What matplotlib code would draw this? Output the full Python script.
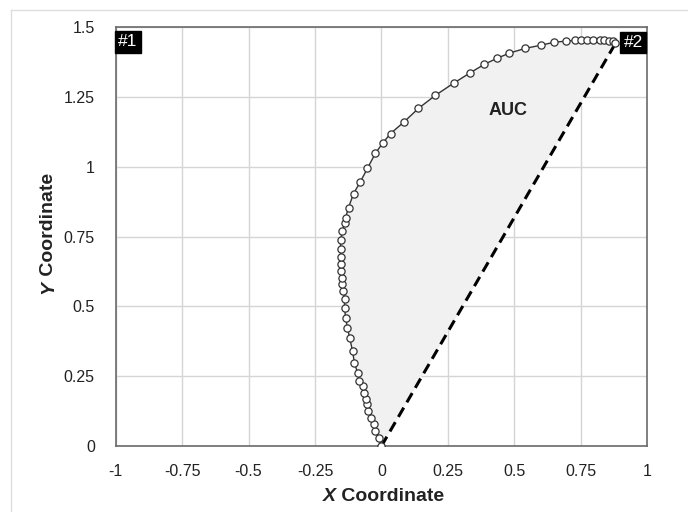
import numpy as np
import matplotlib.pyplot as plt
from matplotlib.lines import Line2D

plt.rcParams["font.family"] = ["Liberation Sans", "DejaVu Sans"]

# trajectory (x, y)
x_path = [0.0, -0.011, -0.023, -0.03, -0.041, -0.049, -0.053, -0.06, -0.064,
          -0.071, -0.083, -0.09, -0.102, -0.109, -0.12, -0.128, -0.135, -0.139,
          -0.139, -0.143, -0.147, -0.15, -0.154, -0.154, -0.154, -0.154, -0.154,
          -0.147, -0.139, -0.135, -0.124, -0.105, -0.079, -0.053, -0.023, 0.004,
          0.034, 0.083, 0.139, 0.203, 0.271, 0.331, 0.387, 0.436, 0.481, 0.541,
          0.598, 0.65, 0.695, 0.729, 0.752, 0.774, 0.797, 0.82, 0.838, 0.857,
          0.872, 0.88]
y_path = [0.0, 0.029, 0.054, 0.079, 0.1, 0.126, 0.151, 0.169, 0.19, 0.215,
          0.233, 0.262, 0.298, 0.341, 0.388, 0.423, 0.459, 0.495, 0.527, 0.556,
          0.581, 0.603, 0.628, 0.653, 0.678, 0.707, 0.736, 0.771, 0.8, 0.818,
          0.854, 0.904, 0.947, 0.994, 1.048, 1.084, 1.119, 1.159, 1.209, 1.256,
          1.299, 1.335, 1.367, 1.389, 1.407, 1.424, 1.435, 1.446, 1.45, 1.453,
          1.453, 1.453, 1.453, 1.453, 1.453, 1.452, 1.449, 1.442]

x_ticks = [-1, -0.75, -0.5, -0.25, 0, 0.25, 0.5, 0.75, 1]
y_ticks = [0, 0.25, 0.5, 0.75, 1, 1.25, 1.5]
x_tick_labels = ["-1", "-0.75", "-0.5", "-0.25", "0", "0.25", "0.5", "0.75", "1"]
y_tick_labels = ["0", "0.25", "0.5", "0.75", "1", "1.25", "1.5"]

fig = plt.figure(figsize=(6.88, 5.12), dpi=100)
ax = fig.add_axes([0.168, 0.129, 0.773, 0.818])

# area between the path and the straight line
ax.fill(x_path, y_path, color="#f1f1f1", zorder=1, lw=0)

ax.plot([x_path[0], x_path[-1]], [y_path[0], y_path[-1]], color="black",
        lw=2.2, ls=(0, (3.5, 2)), zorder=3)
ax.plot(x_path, y_path, color="#333333", lw=1, marker="o", ms=5.2,
        mfc="white", mec="#333333", mew=0.9, zorder=4)

ax.text(0.476, 1.2, "AUC", fontsize=13, fontweight="bold", ha="center",
        va="center", color="#222222", zorder=5)

box = dict(boxstyle="square,pad=0.2", fc="black", ec="black")
ax.text(-0.99, 1.475, "#1", color="white", fontsize=12.5, ha="left", va="top",
        bbox=box, zorder=6)
ax.text(0.91, 1.445, "#2", color="white", fontsize=12.5, ha="left",
        va="center", bbox=box, zorder=6)

ax.set_xlim(-1, 1)
ax.set_ylim(0, 1.5)
ax.set_xticks(x_ticks)
ax.set_xticklabels(x_tick_labels)
ax.set_yticks(y_ticks)
ax.set_yticklabels(y_tick_labels)
ax.tick_params(length=0, labelsize=11.5, labelcolor="#222222", pad=13)
ax.tick_params(axis="y", pad=15)
ax.grid(True, color="#d5d5d5", lw=1)
ax.set_axisbelow(True)
for s in ax.spines.values():
    s.set_color("#6a6a6a")
    s.set_linewidth(1.2)

# axis titles (italic variable letter + bold word)
fig.text(0.488, 0.022, "X", fontsize=14, fontweight="bold", style="italic",
         ha="right", va="baseline", color="#222222")
fig.text(0.488, 0.022, " Coordinate", fontsize=14, fontweight="bold",
         ha="left", va="baseline", color="#222222")
fig.text(0.077, 0.452, "Y", fontsize=14, fontweight="bold", style="italic",
         ha="right", va="baseline", rotation=90, rotation_mode="anchor",
         color="#222222")
fig.text(0.077, 0.452, " Coordinate", fontsize=14, fontweight="bold",
         ha="left", va="baseline", rotation=90, rotation_mode="anchor",
         color="#222222")

# faint outer frame
fig.add_artist(Line2D([0.016, 0.016], [0, 0.98], transform=fig.transFigure,
                      color="#dddddd", lw=1))
fig.add_artist(Line2D([0.016, 1], [0.98, 0.98], transform=fig.transFigure,
                      color="#dddddd", lw=1))

fig.savefig("out.png", dpi=100)
